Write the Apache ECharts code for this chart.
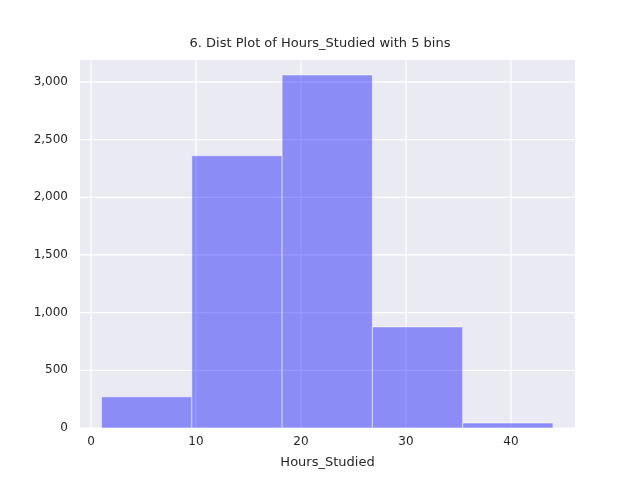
<!DOCTYPE html>
<html>
<head>
<meta charset="utf-8">
<script src="https://cdn.jsdelivr.net/npm/echarts@6/dist/echarts.min.js"></script>
<style>html,body{margin:0;background:#fff}</style>
</head>
<body>
<div id="chart" style="width:640px;height:480px"></div>
<script>
const binEdges = [1.0, 9.6, 18.2, 26.8, 35.4, 44.0];
const binCounts = [270, 2360, 3060, 876, 43];
const xTicks = [0, 10, 20, 30, 40];
const yTicks = [0, 500, 1000, 1500, 2000, 2500, 3000];

const bars = binCounts.map((c, i) => [binEdges[i], binEdges[i + 1], c]);

const chart = echarts.init(document.getElementById("chart"));
const axisText = { color: "#262626", fontSize: 12, fontFamily: "DejaVu Sans" };

chart.setOption({
  backgroundColor: "#fff",
  title: {
    text: "6. Dist Plot of Hours_Studied with 5 bins",
    left: "center", top: 32,
    textStyle: { fontSize: 13, fontWeight: "normal", color: "#262626", fontFamily: "DejaVu Sans" }
  },
  grid: { left: 80, right: 65, top: 60, bottom: 52, backgroundColor: "#EAEAF2", show: true, borderWidth: 0 },
  xAxis: {
    type: "value", min: -1.05, max: 46.1,
    name: "Hours_Studied", nameLocation: "middle", nameGap: 28,
    nameTextStyle: { color: "#262626", fontSize: 13, fontFamily: "DejaVu Sans" },
    axisLine: { show: false }, axisTick: { show: false },
    axisLabel: Object.assign({ customValues: xTicks, margin: 8 }, axisText),
    splitLine: { show: false }
  },
  yAxis: {
    type: "value", min: 0, max: 3190,
    axisLine: { show: false }, axisTick: { show: false },
    axisLabel: Object.assign({ customValues: yTicks, margin: 12 }, axisText),
    splitLine: { show: false }
  },
  series: [
    {
      type: "custom",
      silent: true,
      data: xTicks.map(v => [v]),
      renderItem: (params, api) => {
        const p0 = api.coord([api.value(0), 0]);
        const p1 = api.coord([api.value(0), 3190]);
        return { type: "line", shape: { x1: p0[0], y1: p0[1], x2: p1[0], y2: p1[1] }, style: { stroke: "#fff", lineWidth: 1.2 }, z2: 0 };
      },
      z: 1
    },
    {
      type: "custom",
      silent: true,
      data: yTicks.map(v => [v]),
      encode: { y: 0 },
      renderItem: (params, api) => {
        const p0 = api.coord([-1.05, api.value(0)]);
        const p1 = api.coord([46.1, api.value(0)]);
        return { type: "line", shape: { x1: p0[0], y1: p0[1], x2: p1[0], y2: p1[1] }, style: { stroke: "#fff", lineWidth: 1.2 } };
      },
      z: 1
    },
    {
      type: "custom",
      data: bars,
      encode: { x: [0, 1], y: 2 },
      renderItem: (params, api) => {
        const a = api.coord([api.value(0), api.value(2)]);
        const b = api.coord([api.value(1), 0]);
        return {
          type: "rect",
          shape: { x: a[0], y: a[1], width: b[0] - a[0], height: b[1] - a[1] },
          style: { fill: "rgba(0,0,255,0.4)", stroke: "rgba(255,255,255,0.5)", lineWidth: 1 }
        };
      },
      z: 2
    }
  ]
});
</script>
</body>
</html>
